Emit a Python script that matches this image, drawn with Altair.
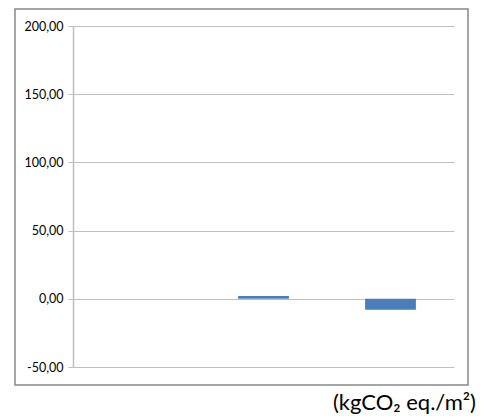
import altair as alt
import pandas as pd

categories = ["A", "B", "C"]
values = [0.0, 2.0, -8.0]
y_ticks = [-50, 0, 50, 100, 150, 200]
unit_label = "(kgCO\u2082 eq./m\u00b2)"

df = pd.DataFrame({"cat": categories, "val": values})

base = alt.Chart(df)

bars = base.mark_bar(color="#4A7EBB", clip=False).encode(
    x=alt.X("cat:N", sort=categories, axis=None,
            scale=alt.Scale(paddingInner=0.6, paddingOuter=0.3)),
    y=alt.Y("val:Q",
            scale=alt.Scale(domain=[-50, 200], nice=False, zero=False),
            axis=alt.Axis(values=y_ticks, title=None,
                          labelExpr="replace(replace(format(datum.value, '.2f'), '.', ','), '\u2212', '-')",
                          labelFont="Lato", labelFontSize=12.5, labelColor="#000000",
                          labelPadding=5,
                          grid=True, gridColor="#BFBFBF", gridWidth=1,
                          domain=True, domainColor="#BFBFBF", domainWidth=1.5,
                          tickColor="#BFBFBF", tickSize=5, tickWidth=1)),
)

frame = alt.Chart(pd.DataFrame({"k": [0]})).mark_rect(
    fill=None, stroke="#888888", strokeWidth=1.5, clip=False
).encode(
    x=alt.value(-58), x2=alt.value(395),
    y=alt.value(-17), y2=alt.value(359),
)

unit = alt.Chart(pd.DataFrame({"t": [unit_label]})).mark_text(
    align="right", baseline="middle", font="Lato", fontSize=22, color="#000000"
).encode(
    x=alt.value(403), y=alt.value(377), text="t:N"
)

chart = alt.layer(frame, bars, unit).properties(
    width=381, height=341,
    autosize=alt.AutoSizeParams(type="none"),
    padding={"left": 65, "top": 18, "right": 23, "bottom": 49},
).configure_view(stroke=None)

chart.save("out.html", embed_options={"renderer": "svg", "actions": False})
